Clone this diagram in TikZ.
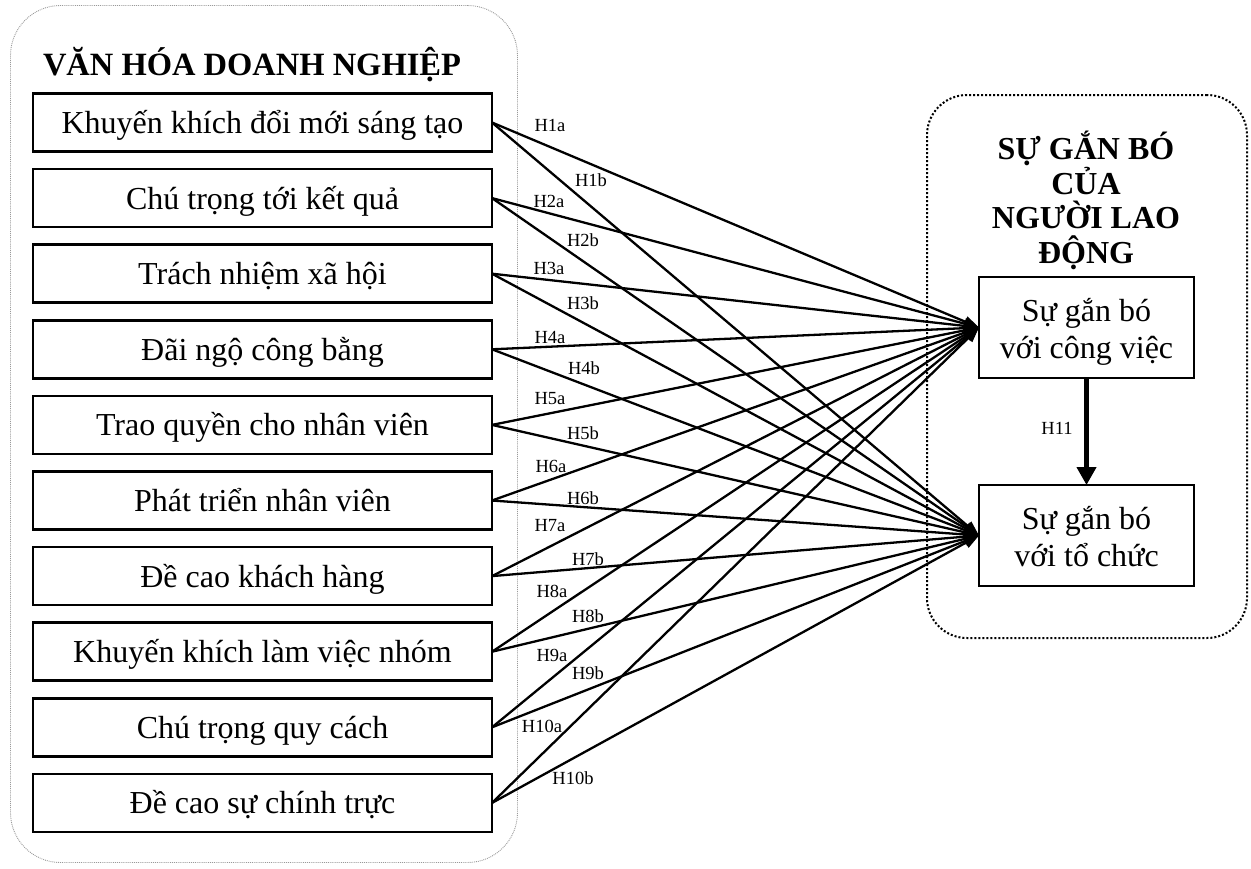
\documentclass[tikz,border=0pt]{standalone}
\usepackage{fontspec}
\setmainfont{Liberation Serif}
\usetikzlibrary{arrows.meta}
\tikzset{
  every node/.style={inner sep=0pt, outer sep=0pt},
  lbox/.style={draw, line width=2.6pt, minimum width=459pt, minimum height=58pt, font=\fontsize{32}{35}\selectfont, text height=28pt, text depth=6pt},
  rbox/.style={draw, line width=2.6pt, minimum width=215pt, minimum height=101pt, font=\fontsize{32}{37}\selectfont, align=center, text height=61.5pt, text depth=0pt},
  conn/.style={line width=2.3pt, -{Triangle[length=15pt,width=11pt]}},
  hlab/.style={font=\fontsize{18.5}{20}\selectfont},
  ltitle/.style={font=\bfseries\fontsize{32.5}{35}\selectfont, text height=28pt, text depth=6pt},
  rtitle/.style={font=\bfseries\fontsize{32}{34.5}\selectfont, align=center},
}
\begin{document}
\begin{tikzpicture}[x=1pt,y=-1pt]
\useasboundingbox (0,0) rectangle (1251,868);
% containers
\node[draw=gray!80, line width=0.9pt, densely dotted, rounded corners=50pt, minimum width=507pt, minimum height=857pt] (vh) at (264,434) {};
\node[draw, line width=2pt, dash pattern=on 2pt off 2pt, rounded corners=40pt, minimum width=320pt, minimum height=543pt] (sg) at (1087,366.5) {};
% titles
\node[ltitle] (t1) at (252,64) {VĂN HÓA DOANH NGHIỆP};
\node[rtitle] (t2) at (1086,200.5) {SỰ GẮN BÓ\\CỦA\\NGƯỜI LAO\\ĐỘNG};
% left boxes
\node[lbox] (b1) at (262.5,122.5) {Khuyến khích đổi mới sáng tạo};
\node[lbox] (b2) at (262.5,198.1) {Chú trọng tới kết quả};
\node[lbox] (b3) at (262.5,273.7) {Trách nhiệm xã hội};
\node[lbox] (b4) at (262.5,349.3) {Đãi ngộ công bằng};
\node[lbox] (b5) at (262.5,424.9) {Trao quyền cho nhân viên};
\node[lbox] (b6) at (262.5,500.5) {Phát triển nhân viên};
\node[lbox] (b7) at (262.5,576.1) {Đề cao khách hàng};
\node[lbox] (b8) at (262.5,651.7) {Khuyến khích làm việc nhóm};
\node[lbox] (b9) at (262.5,727.3) {Chú trọng quy cách};
\node[lbox] (b10) at (262.5,802.9) {Đề cao sự chính trực};
% right boxes
\node[rbox] (job) at (1086.5,327.5) {Sự gắn bó\\với công việc};
\node[rbox] (org) at (1086.5,535.5) {Sự gắn bó\\với tổ chức};
% connectors
\foreach \i in {1,...,10}{
  \draw[conn] (b\i.east) -- (job.west);
  \draw[conn] (b\i.east) -- (org.west);
}
\draw[line width=4.2pt, -{Triangle[length=18pt,width=19pt]}] (job.south) -- (org.north);
% labels
\node[hlab] (l1a) at (550,125) {H1a};
\node[hlab] (l1b) at (591,180) {H1b};
\node[hlab] (l2a) at (549,201) {H2a};
\node[hlab] (l2b) at (583,240) {H2b};
\node[hlab] (l3a) at (549,268) {H3a};
\node[hlab] (l3b) at (583,303) {H3b};
\node[hlab] (l4a) at (550,337) {H4a};
\node[hlab] (l4b) at (584,368) {H4b};
\node[hlab] (l5a) at (550,399) {H5a};
\node[hlab] (l5b) at (583,433) {H5b};
\node[hlab] (l6a) at (551,466) {H6a};
\node[hlab] (l6b) at (583,498) {H6b};
\node[hlab] (l7a) at (550,526) {H7a};
\node[hlab] (l7b) at (588,559) {H7b};
\node[hlab] (l8a) at (552,591) {H8a};
\node[hlab] (l8b) at (588,616) {H8b};
\node[hlab] (l9a) at (552,655) {H9a};
\node[hlab] (l9b) at (588,673) {H9b};
\node[hlab] (l10a) at (542,726) {H10a};
\node[hlab] (l10b) at (573,778) {H10b};
\node[hlab] (l11) at (1057,428) {H11};
\end{tikzpicture}
\end{document}
